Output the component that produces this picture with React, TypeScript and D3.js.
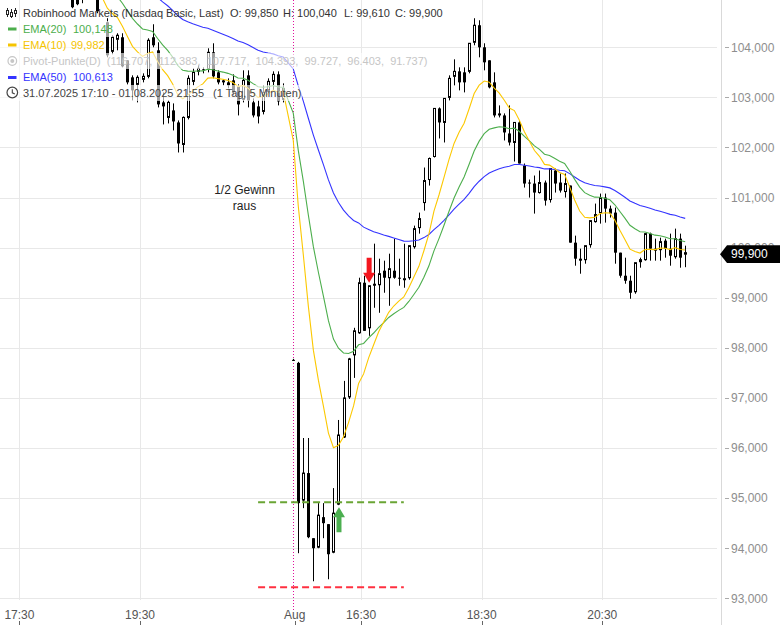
import React from 'react';
import * as d3 from 'd3';

const FONT = "'Liberation Sans', Arial, Helvetica, sans-serif";
const W = 780;
const H = 625;

// ---------- data (5-minute candles, slot index = 5-min position on the axis) ----------
const day1FirstSlot = 15; // 31.07. 18:25
const day1Open = [105.30,105.20,105.10,105.05,105.15,105.20,104.98,104.50,103.90,104.14,104.20,103.74,103.40,103.24,103.34,103.40,104.20,103.94,102.90,102.58,102.74,102.50,102.04,102.58,103.30,103.50,103.56,103.54,103.90,103.50,103.34,103.30,103.34,103.22,102.94,103.44,102.90,102.82,102.70,103.10,103.30,103.46,102.94];
const day1High = [105.50,105.40,105.25,105.30,105.35,105.40,105.20,104.58,104.24,104.28,104.28,103.74,103.44,103.44,103.48,104.18,104.46,104.10,103.10,102.94,102.88,102.54,102.62,103.44,103.58,103.64,103.60,103.98,104.08,103.54,103.36,103.38,103.46,103.26,103.54,103.54,102.98,102.94,103.24,103.38,103.52,103.52,103.28];
const day1Low = [104.78,104.84,104.88,104.98,105.00,104.68,104.97,103.80,103.86,103.94,103.60,103.26,102.94,102.90,103.30,103.38,104.00,102.80,102.46,102.48,102.34,101.90,101.90,102.56,103.24,103.44,103.48,103.50,103.38,103.26,103.24,103.18,103.04,102.64,102.90,102.80,102.60,102.48,102.66,103.08,103.14,102.84,102.90];
const day1Close = [104.80,104.86,105.00,105.15,105.10,104.72,105.05,103.84,104.20,104.24,103.62,103.30,103.14,103.40,103.42,104.14,104.04,102.86,102.82,102.90,102.52,102.08,102.60,103.38,103.50,103.58,103.54,103.90,103.42,103.30,103.30,103.24,103.10,102.86,103.34,102.94,102.64,102.62,103.10,103.32,103.46,102.92,103.18];

const day2FirstSlot = 59; // 01.08. 15:25
const day2Open = [97.76,97.70,94.94,95.50,94.20,94.00,94.62,94.48,93.90,94.86,96.20,97.00,97.84,98.28,99.30,98.38,99.28,99.24,99.54,99.38,99.54,99.40,99.36,99.38,100.00,100.38,100.88,101.34,101.80,102.78,102.48,102.98,103.40,103.52,103.50,103.50,104.08,104.44,104.00,103.74,103.30,102.68,102.64,102.28,102.08,102.50,101.64,101.30,101.28,101.08,101.30,100.94,101.54,101.30,101.10,101.24,100.10,99.78,99.74,100.04,100.50,100.68,101.00,100.78,100.70,99.90,99.44,99.34,99.10,99.70,99.74,100.28,99.98,99.94,100.14,99.98,99.80,100.18,99.85];
const day2High = [97.78,97.72,96.20,96.20,94.20,94.90,94.90,94.48,95.20,96.56,97.34,97.80,98.40,99.40,99.44,99.24,100.08,99.78,99.74,99.88,100.18,99.78,100.08,100.04,100.44,100.70,101.60,101.80,102.78,102.80,102.98,103.44,103.76,103.60,103.60,104.08,104.58,104.54,104.08,103.74,103.50,102.84,102.68,102.84,102.50,102.54,101.68,101.36,101.44,101.54,101.34,101.58,101.58,101.48,101.48,101.24,100.24,99.98,100.04,100.54,100.88,101.08,101.08,100.84,100.80,99.90,99.80,99.44,99.70,99.80,100.28,100.30,100.18,100.20,100.18,100.28,100.38,100.28,100.04];
const day2Low = [97.74,93.90,94.80,94.20,93.34,94.00,94.20,93.38,93.90,94.86,96.20,96.98,97.40,98.28,98.34,98.24,98.80,98.70,99.10,98.84,99.38,99.24,99.20,99.36,99.98,100.28,100.74,101.24,101.80,102.18,102.10,102.94,103.24,103.14,103.10,103.48,104.04,103.80,103.54,103.18,102.60,102.60,102.14,102.04,101.72,101.68,101.20,101.00,100.68,101.08,100.84,100.90,101.10,101.10,101.00,100.10,99.64,99.48,99.68,100.00,100.50,100.48,100.50,100.60,99.68,99.40,99.28,98.98,99.08,99.60,99.74,99.74,99.74,99.74,99.80,99.64,99.78,99.60,99.61];
const day2Close = [97.76,94.90,95.50,94.22,94.00,94.66,94.50,93.88,94.70,96.26,97.00,97.78,98.34,99.30,98.34,99.24,99.24,99.48,99.40,99.58,99.40,99.38,99.38,100.04,100.38,100.58,101.34,101.78,102.78,102.50,102.98,103.38,103.52,103.30,103.30,104.08,104.44,104.00,103.70,103.20,102.64,102.64,102.30,102.10,102.50,101.68,101.28,101.28,101.10,101.30,100.94,101.58,101.28,101.14,101.28,100.10,99.78,99.74,100.04,100.54,100.66,101.00,100.78,100.68,99.90,99.44,99.34,99.10,99.70,99.76,100.28,99.98,99.94,100.12,99.98,99.84,100.18,99.80,99.90];

// EMA indicators: period, value before first candle, colour
const emaPeriods = [50, 20, 10];
const emaSeeds = [106.0, 105.7, 105.06];
const emaColors = ['#3434ff', '#4cae4c', '#fcc800'];

// legend
const legendTitle = 'Robinhood Markets (Nasdaq Basic, Last)';
const emaLegendNames = ['EMA(20)', 'EMA(10)', 'EMA(50)'];
const emaLegendValues = ['100,148', '99,982', '100,613'];
const emaLegendColors = ['#4cae4c', '#f5c400', '#3434ff'];
const pivotValues = ['116.707', '112.383', '107.717', '104.393', '99.727', '96.403', '91.737'];
const rangeText = '31.07.2025 17:10 - 01.08.2025 21:55';
const intervalText = '(1 Tag, 5 Minuten)';

// axes
const priceTicks = [93, 94, 95, 96, 97, 98, 99, 100, 101, 102, 103, 104];
const timeTickLabels = ['17:30', '19:30', 'Aug', '16:30', '18:30', '20:30'];
const timeTickSlots = [4.5, 28.5, 59.3, 72.5, 96.5, 120.5];
const dayBreakSlot = 59;

// annotations
const entryPrice = 94.92;
const stopPrice = 93.22;
const levelSlots = [52, 81];
const buyArrow = { slot: 68, price: 94.82 };
const sellArrow = { slot: 74, price: 99.3 };
const noteLines = ['1/2 Gewinn', 'raus'];
const notePos = { slot: 49.3, price: 101.08 };

type Candle = { slot: number; o: number; h: number; l: number; c: number };

function buildCandles(): Candle[] {
  const out: Candle[] = [];
  day1Open.forEach((o, i) => out.push({ slot: day1FirstSlot + i, o, h: day1High[i], l: day1Low[i], c: day1Close[i] }));
  day2Open.forEach((o, i) => out.push({ slot: day2FirstSlot + i, o, h: day2High[i], l: day2Low[i], c: day2Close[i] }));
  return out;
}

function ema(values: number[], period: number, seed: number): number[] {
  const k = 2 / (period + 1);
  let e = seed;
  return values.map((v) => (e = e + k * (v - e)));
}

const fmt = (v: number) => v.toFixed(3).replace('.', ',');

export default function App() {
  const candles = buildCandles();
  const x = d3.scaleLinear().domain([0, 137]).range([-3.2, 685.2]);
  const y = d3.scaleLinear().domain([93, 104]).range([598.3, 47.3]);
  const plotRight = 721;

  const closes = candles.map((c) => c.c);
  const emaLines = emaPeriods.map((p, i) => {
    const vals = ema(closes, p, emaSeeds[i]);
    const line = d3
      .line<number>()
      .x((_, j) => x(candles[j].slot))
      .y((v) => y(v));
    return line(vals) || '';
  });

  const last = candles[candles.length - 1];
  const lastY = y(last.c) + 1.5;

  const bx = (s: number) => Math.round(x(s));

  return (
    <svg
      width={W}
      height={H}
      viewBox={`0 0 ${W} ${H}`}
      style={{ position: 'absolute', left: 0, top: 0, background: '#fff' }}
      fontFamily={FONT}
    >
      <defs>
        <clipPath id="plot">
          <rect x={0} y={0} width={plotRight} height={603} />
        </clipPath>
      </defs>
      <rect x={0} y={0} width={W} height={H} fill="#fff" />

      {/* grid */}
      <g stroke="#e8e8e8" strokeWidth={1}>
        {priceTicks.map((t) => (
          <line key={t} x1={0} x2={717} y1={Math.round(y(t)) + 0.5} y2={Math.round(y(t)) + 0.5} />
        ))}
        {timeTickSlots.map((s, i) =>
          timeTickLabels[i] === 'Aug' ? null : (
            <line key={s} x1={bx(s) + 0.5} x2={bx(s) + 0.5} y1={0} y2={600} />
          )
        )}
      </g>

      {/* right axis */}
      <line x1={plotRight + 0.5} x2={plotRight + 0.5} y1={0} y2={H} stroke="#d9d9d9" />
      <g fill="#8e8e8e" fontSize={12}>
        {priceTicks.map((t) => (
          <g key={t}>
            <line x1={725} x2={729} y1={Math.round(y(t)) + 0.5} y2={Math.round(y(t)) + 0.5} stroke="#aaa" />
            <text x={731} y={y(t) + 4.3}>{fmt(t)}</text>
          </g>
        ))}
      </g>

      {/* bottom axis */}
      <g fill="#555" fontSize={12}>
        {timeTickSlots.map((s, i) => (
          <g key={s}>
            <text x={x(s)} y={619} textAnchor="middle">{timeTickLabels[i]}</text>
            <line x1={bx(s) + 0.5} x2={bx(s) + 0.5} y1={621} y2={625} stroke="#666" />
          </g>
        ))}
      </g>

      {/* day break */}
      <line
        x1={bx(dayBreakSlot) + 0.5}
        x2={bx(dayBreakSlot) + 0.5}
        y1={0}
        y2={610}
        stroke="#e0109c"
        strokeWidth={1}
        strokeDasharray="1,2"
      />

      <g clipPath="url(#plot)">
        {/* candles */}
        {candles.map((c) => {
          const cx = bx(c.slot);
          const up = c.c > c.o;
          const top = Math.min(y(c.o), y(c.c));
          const bot = Math.max(y(c.o), y(c.c));
          const hgt = Math.max(1, bot - top);
          return (
            <g key={c.slot}>
              <line x1={cx + 0.5} x2={cx + 0.5} y1={y(c.h)} y2={y(c.l)} stroke="#000" strokeWidth={1} />
              {up ? (
                <rect x={cx - 0.5} y={top} width={2} height={Math.max(1, hgt - 1)} fill="#fff" stroke="#000" strokeWidth={1} />
              ) : (
                <rect x={cx - 1} y={top} width={3} height={hgt} fill="#000" />
              )}
            </g>
          );
        })}

        {/* EMA lines */}
        {emaLines.map((d, i) => (
          <path key={i} d={d} fill="none" stroke={emaColors[i]} strokeWidth={1.1} />
        ))}

        {/* levels */}
        <line
          x1={x(levelSlots[0])}
          x2={x(levelSlots[1])}
          y1={y(entryPrice)}
          y2={y(entryPrice)}
          stroke="#6aa535"
          strokeWidth={2}
          strokeDasharray="7,4"
        />
        <line
          x1={x(levelSlots[0])}
          x2={x(levelSlots[1])}
          y1={y(stopPrice)}
          y2={y(stopPrice)}
          stroke="#ff3040"
          strokeWidth={2}
          strokeDasharray="7,4"
        />

        {/* arrows */}
        {(() => {
          const ax = x(buyArrow.slot) + 0.5;
          const ay = y(buyArrow.price);
          return (
            <path
              d={`M${ax},${ay} L${ax + 6},${ay + 10} L${ax + 2.5},${ay + 10} L${ax + 2.5},${ay + 25} L${ax - 2.5},${ay + 25} L${ax - 2.5},${ay + 10} L${ax - 6},${ay + 10} Z`}
              fill="#4caf50"
            />
          );
        })()}
        {(() => {
          const ax = x(sellArrow.slot) + 0.5;
          const ay = y(sellArrow.price);
          return (
            <path
              d={`M${ax},${ay} L${ax + 6},${ay - 10} L${ax + 2.5},${ay - 10} L${ax + 2.5},${ay - 25} L${ax - 2.5},${ay - 25} L${ax - 2.5},${ay - 10} L${ax - 6},${ay - 10} Z`}
              fill="#f4161e"
            />
          );
        })()}

        {/* note */}
        <g fontSize={12} fill="#222" textAnchor="middle">
          {noteLines.map((t, i) => (
            <text key={t} x={x(notePos.slot)} y={y(notePos.price) + i * 16}>{t}</text>
          ))}
        </g>
      </g>

      {/* last price badge */}
      <path
        d={`M${plotRight - 1},${lastY} L${plotRight + 6},${lastY - 8.8} L${W},${lastY - 8.8} L${W},${lastY + 8.8} L${plotRight + 6},${lastY + 8.8} Z`}
        fill="#000"
      />
      <text x={731} y={lastY + 4.3} fontSize={12} fill="#fff">{fmt(last.c)}</text>

      {/* legend */}
      <g fontSize={11}>
        <g fill="#fff" fillOpacity={0.62}>
          <rect x={0} y={21} width={113} height={16} />
          <rect x={0} y={37} width={106} height={16} />
          <rect x={0} y={53} width={428} height={16} />
          <rect x={0} y={69} width={113} height={16} />
          <rect x={0} y={85} width={302} height={16} />
        </g>

        {/* row 1 */}
        <g stroke="#222" strokeWidth={1}>
          <line x1={7.5} x2={7.5} y1={8} y2={17} />
          <rect x={6.5} y={10.5} width={2} height={4} fill="#fff" />
          <line x1={11.5} x2={11.5} y1={9} y2={18} />
          <rect x={10.5} y={12.5} width={2} height={4} fill="#fff" />
          <line x1={15.5} x2={15.5} y1={8} y2={17} />
          <rect x={14.5} y={10.5} width={2} height={3} fill="#fff" />
        </g>
        <g fill="#333">
          <text x={23} y={17}>{legendTitle}</text>
          <text x={230} y={17}>{`O: ${fmt(last.o)}`}</text>
          <text x={283} y={17}>{`H: ${fmt(last.h)}`}</text>
          <text x={344} y={17}>{`L: ${fmt(last.l)}`}</text>
          <text x={395} y={17}>{`C: ${fmt(last.c)}`}</text>
        </g>

        {/* EMA rows */}
        {[0, 1].map((i) => (
          <g key={i} fill={emaLegendColors[i]}>
            <rect x={8} y={27.5 + i * 16} width={8.5} height={3} />
            <text x={23} y={33 + i * 16}>{emaLegendNames[i]}</text>
            <text x={i === 0 ? 73 : 71} y={33 + i * 16}>{emaLegendValues[i]}</text>
          </g>
        ))}

        {/* pivot row */}
        <g fill="#c6c6c6">
          <circle cx={12.3} cy={61} r={4.3} fill="none" stroke="#c6c6c6" strokeWidth={1.2} />
          <circle cx={12.3} cy={61} r={2} />
          <text x={23} y={65} style={{ whiteSpace: 'pre' }}>
            {`Pivot-Punkte(D)  (${pivotValues.join(',  ')})`}
          </text>
        </g>

        {/* EMA50 row */}
        <g fill={emaLegendColors[2]}>
          <rect x={8} y={76} width={8.5} height={3} />
          <text x={23} y={81}>{emaLegendNames[2]}</text>
          <text x={73} y={81}>{emaLegendValues[2]}</text>
        </g>

        {/* time row */}
        <g>
          <circle cx={12.3} cy={92.5} r={5.3} fill="none" stroke="#444" strokeWidth={1.2} />
          <path d="M12.3,89.2 L12.3,92.8 L14.8,94" fill="none" stroke="#444" strokeWidth={1.1} />
          <text x={23} y={97} fill="#444">{rangeText}</text>
          <text x={213} y={97} fill="#444">{intervalText}</text>
        </g>
      </g>
    </svg>
  );
}
